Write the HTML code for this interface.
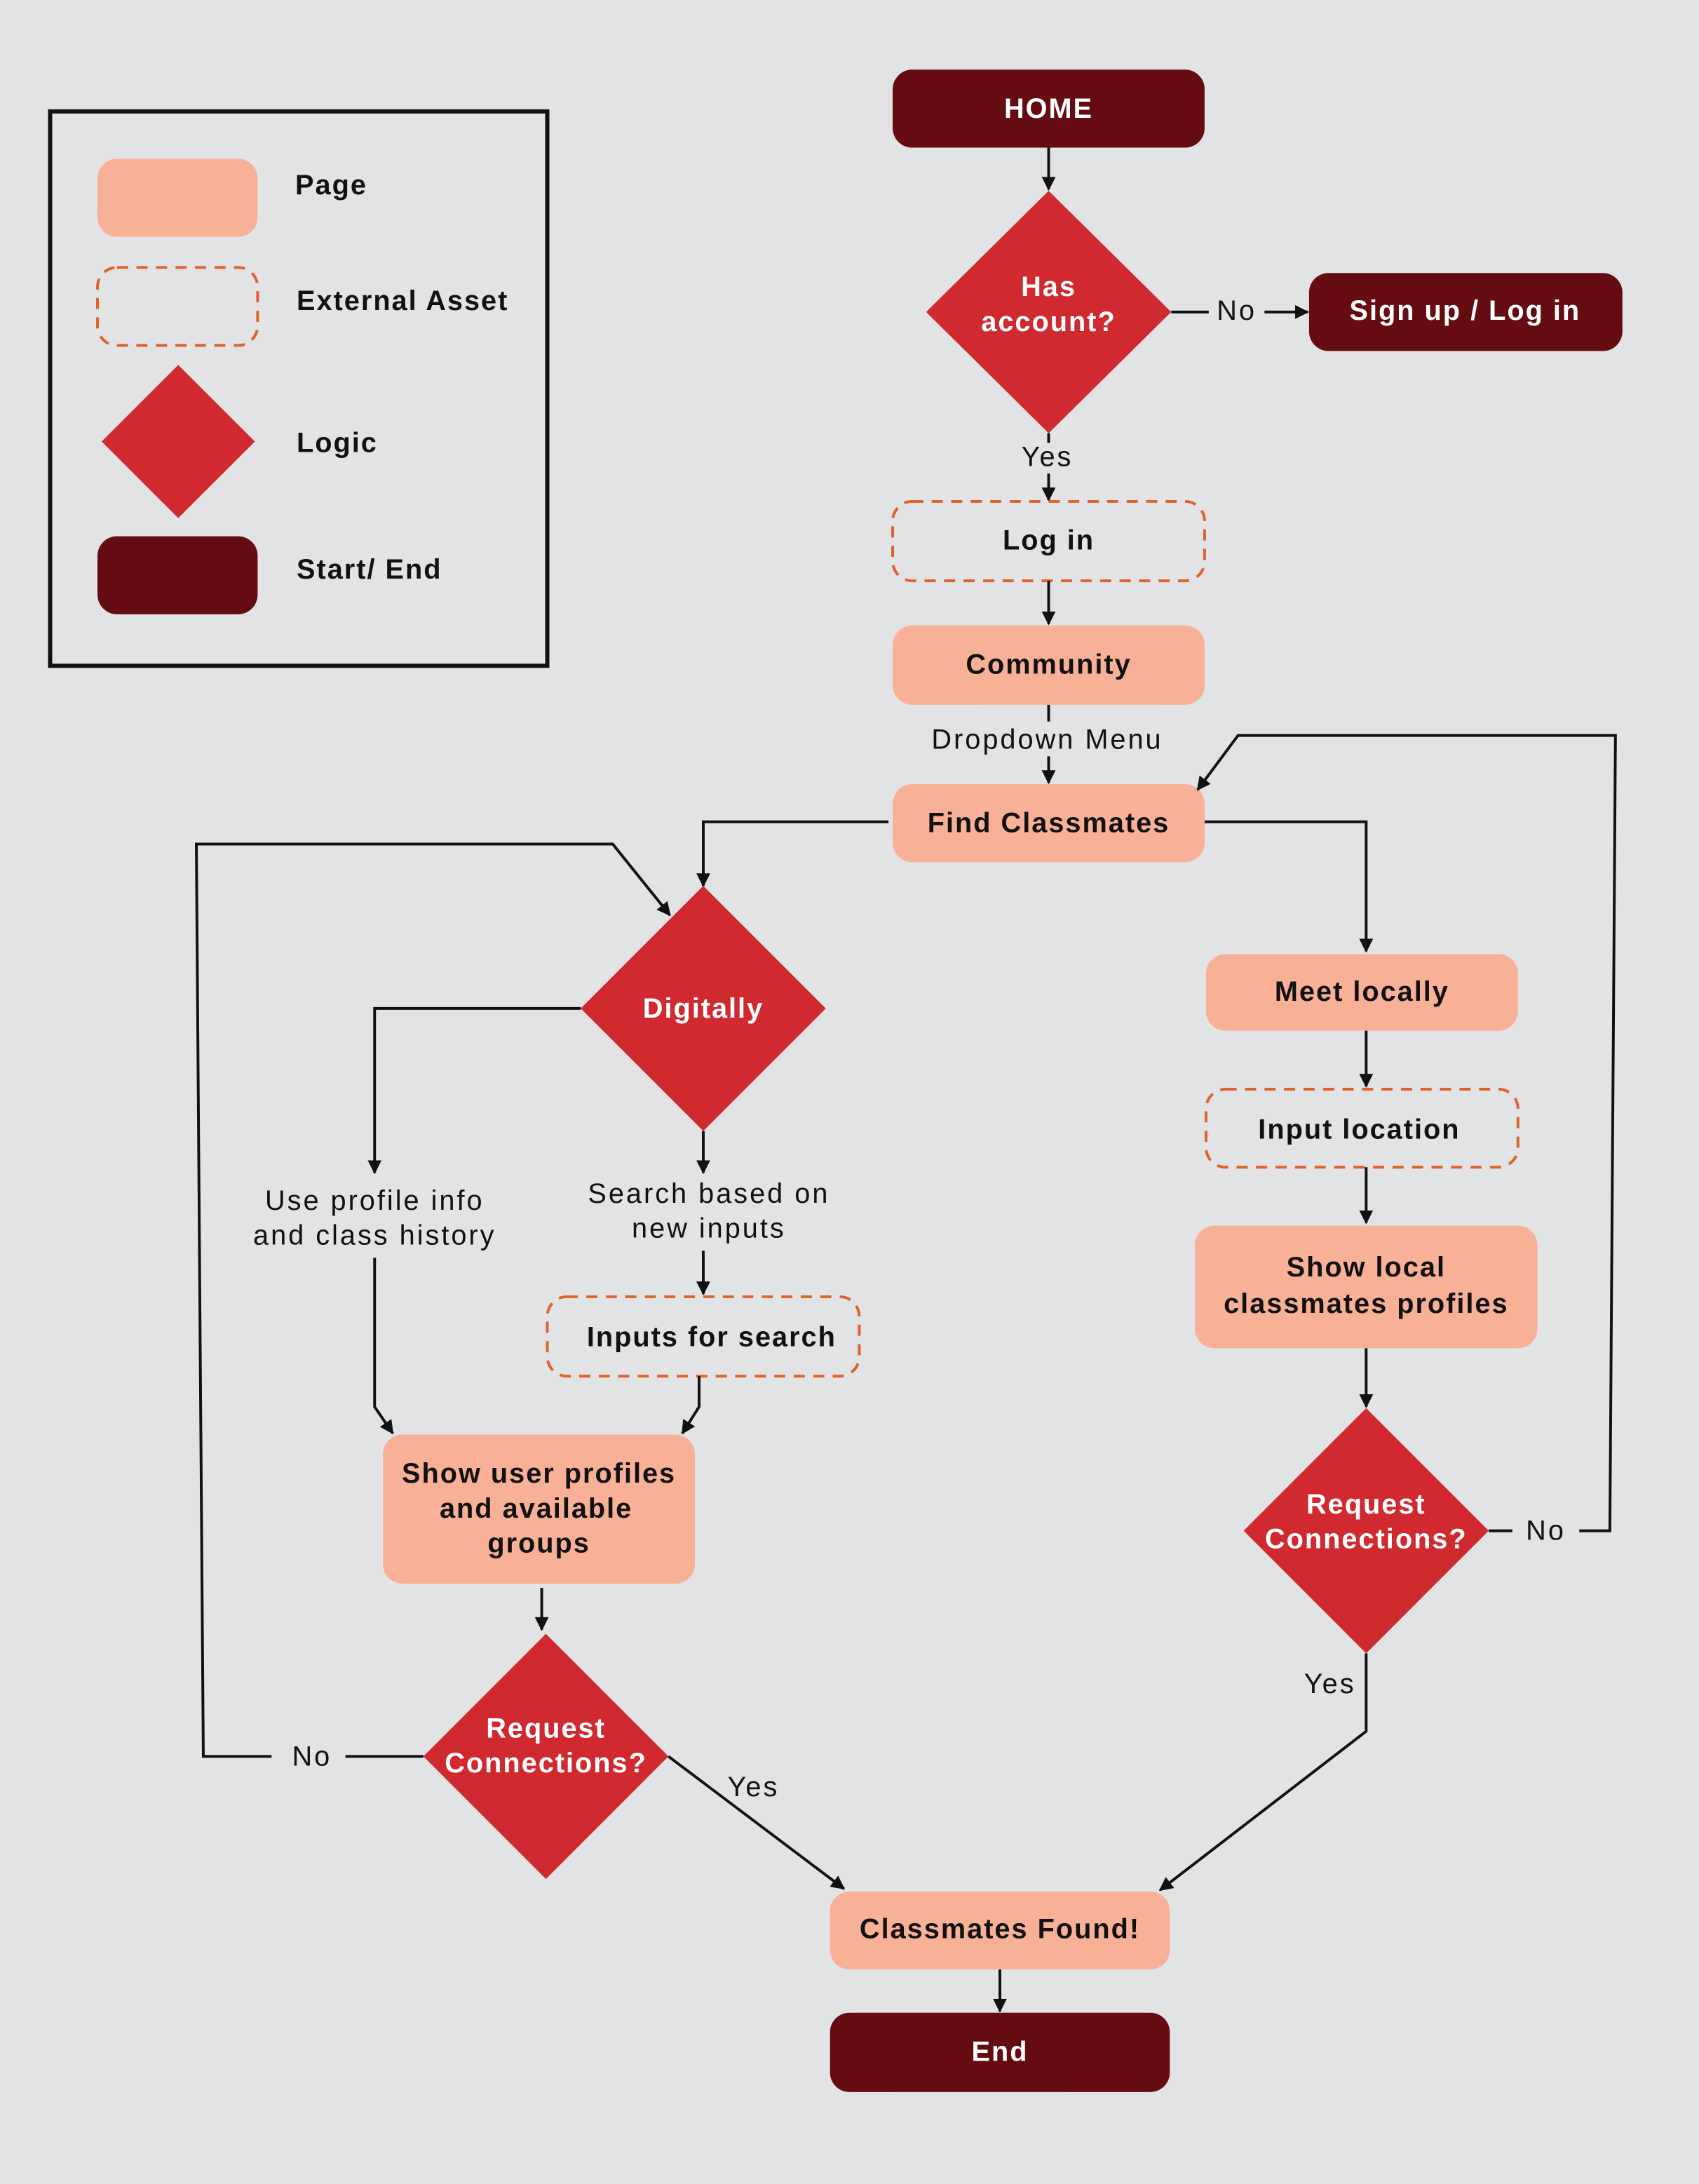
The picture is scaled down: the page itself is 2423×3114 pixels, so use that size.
<!DOCTYPE html>
<html><head><meta charset="utf-8"><style>
html,body{margin:0;padding:0;background:#e2e3e5}
svg{display:block;width:2423px;height:3114px}
text{font-family:"Liberation Sans",sans-serif;text-anchor:middle;dominant-baseline:central}
.n{font-size:20px;font-weight:600;fill:#111;letter-spacing:1px}
.w{font-size:20px;font-weight:600;fill:#fff;letter-spacing:1px}
.l{font-size:20px;fill:#111;letter-spacing:1.5px}
.lg{font-size:20px;font-weight:600;fill:#111;text-anchor:start;letter-spacing:1px}
.c{fill:none;stroke:#111;stroke-width:2}
</style></head><body>
<svg viewBox="0 0 1220 1568" preserveAspectRatio="none" xmlns="http://www.w3.org/2000/svg">
<defs><marker id="a" markerWidth="10" markerHeight="10" refX="9" refY="5" orient="auto" markerUnits="userSpaceOnUse"><path d="M0,0L10,5L0,10z" fill="#111"/></marker></defs>
<rect width="1220" height="1568" fill="#e2e3e5"/>
<rect x="36" y="80" width="357" height="398" fill="none" stroke="#111" stroke-width="3"/>
<rect x="70" y="114" width="115" height="56" rx="14" fill="#f8b097"/>
<text class="lg" x="212" y="133">Page</text>
<rect x="70" y="192" width="115" height="56" rx="14" fill="none" stroke="#e0622a" stroke-width="2" stroke-dasharray="8,6"/>
<text class="lg" x="213" y="216">External Asset</text>
<path d="M128,262L183,317L128,372L73,317z" fill="#d02a30"/>
<text class="lg" x="213" y="318">Logic</text>
<rect x="70" y="385" width="115" height="56" rx="14" fill="#650c12"/>
<text class="lg" x="213" y="409">Start/ End</text>
<rect x="641" y="50" width="224" height="56" rx="14" fill="#650c12"/>
<text class="w" x="753" y="78">HOME</text>
<path class="c" d="M753,106V136" marker-end="url(#a)"/>
<path d="M753,137L841,224L753,311L665,224z" fill="#d02a30"/>
<text class="w" x="753" y="206">Has</text><text class="w" x="753" y="231">account?</text>
<path class="c" d="M841,224H868"/><text class="l" x="888" y="223">No</text>
<path class="c" d="M908,224H939" marker-end="url(#a)"/>
<rect x="940" y="196" width="225" height="56" rx="14" fill="#650c12"/>
<text class="w" x="1052" y="223">Sign up / Log in</text>
<path class="c" d="M753,311V318"/><text class="l" x="752" y="328">Yes</text>
<path class="c" d="M753,340V359" marker-end="url(#a)"/>
<rect x="641" y="360" width="224" height="57" rx="14" fill="none" stroke="#e0622a" stroke-width="2" stroke-dasharray="8,6"/>
<text class="n" x="753" y="388">Log in</text>
<path class="c" d="M753,417V448" marker-end="url(#a)"/>
<rect x="641" y="449" width="224" height="57" rx="14" fill="#f8b097"/>
<text class="n" x="753" y="477">Community</text>
<path class="c" d="M753,506V518"/><text class="l" x="752" y="531">Dropdown Menu</text>
<path class="c" d="M753,543V562" marker-end="url(#a)"/>
<rect x="641" y="563" width="224" height="56" rx="14" fill="#f8b097"/>
<text class="n" x="753" y="591">Find Classmates</text>
<path class="c" d="M638,590H505V636" marker-end="url(#a)"/>
<path d="M505,636L593,724L505,812L417,724z" fill="#d02a30"/>
<text class="w" x="505" y="724">Digitally</text>
<path class="c" d="M417,724H269V842" marker-end="url(#a)"/>
<text class="l" x="269" y="862">Use profile info</text><text class="l" x="269" y="887">and class history</text>
<path class="c" d="M505,812V842" marker-end="url(#a)"/>
<text class="l" x="509" y="857">Search based on</text><text class="l" x="509" y="882">new inputs</text>
<path class="c" d="M505,898V929" marker-end="url(#a)"/>
<rect x="393" y="931" width="224" height="57" rx="14" fill="none" stroke="#e0622a" stroke-width="2" stroke-dasharray="8,6"/>
<text class="n" x="511" y="960">Inputs for search</text>
<path class="c" d="M502,988V1010L490,1029" marker-end="url(#a)"/>
<path class="c" d="M269,903V1010L282,1029" marker-end="url(#a)"/>
<rect x="275" y="1030" width="224" height="107" rx="14" fill="#f8b097"/>
<text class="n" x="387" y="1058">Show user profiles</text><text class="n" x="385" y="1083">and available</text><text class="n" x="387" y="1108">groups</text>
<path class="c" d="M389,1140V1170" marker-end="url(#a)"/>
<path d="M392,1173L480,1261L392,1349L304,1261z" fill="#d02a30"/>
<text class="w" x="392" y="1241">Request</text><text class="w" x="392" y="1266">Connections?</text>
<path class="c" d="M304,1261H248"/><text class="l" x="224" y="1261">No</text>
<path class="c" d="M195,1261H146L141,606H440L481,657" marker-end="url(#a)"/>
<path class="c" d="M480,1261L606,1356" marker-end="url(#a)"/>
<text class="l" x="541" y="1283">Yes</text>
<rect x="596" y="1358" width="244" height="56" rx="14" fill="#f8b097"/>
<text class="n" x="718" y="1385">Classmates Found!</text>
<path class="c" d="M718,1414V1444" marker-end="url(#a)"/>
<rect x="596" y="1445" width="244" height="57" rx="14" fill="#650c12"/>
<text class="w" x="718" y="1473">End</text>
<path class="c" d="M865,590H981V683" marker-end="url(#a)"/>
<rect x="866" y="685" width="224" height="55" rx="14" fill="#f8b097"/>
<text class="n" x="978" y="712">Meet locally</text>
<path class="c" d="M981,740V780" marker-end="url(#a)"/>
<rect x="866" y="782" width="224" height="56" rx="14" fill="none" stroke="#e0622a" stroke-width="2" stroke-dasharray="8,6"/>
<text class="n" x="976" y="811">Input location</text>
<path class="c" d="M981,838V878" marker-end="url(#a)"/>
<rect x="858" y="880" width="246" height="88" rx="14" fill="#f8b097"/>
<text class="n" x="981" y="910">Show local</text><text class="n" x="981" y="936">classmates profiles</text>
<path class="c" d="M981,968V1010" marker-end="url(#a)"/>
<path d="M981,1011L1069,1099L981,1187L893,1099z" fill="#d02a30"/>
<text class="w" x="981" y="1080">Request</text><text class="w" x="981" y="1105">Connections?</text>
<path class="c" d="M1069,1099H1086"/><text class="l" x="1110" y="1099">No</text>
<path class="c" d="M1134,1099H1156L1160,528H889L860,567" marker-end="url(#a)"/>
<path class="c" d="M981,1187V1243L833,1357" marker-end="url(#a)"/>
<text class="l" x="955" y="1209">Yes</text>
</svg>
</body></html>
